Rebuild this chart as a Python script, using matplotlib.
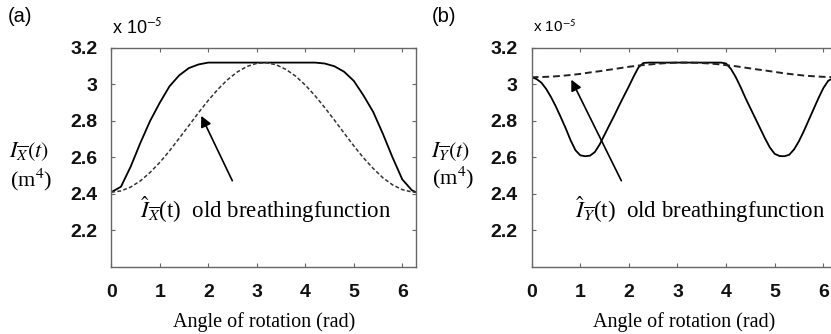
import numpy as np
import matplotlib
matplotlib.use("Agg")
import matplotlib.pyplot as plt

plt.rcParams['font.family'] = ['Liberation Sans', 'DejaVu Sans']
plt.rcParams['mathtext.fontset'] = 'stix'

# sample angles (rad)
angle = [0.0, 0.2, 0.4, 0.6, 0.8, 1.0, 1.2, 1.4, 1.6, 1.8, 2.0, 2.2, 2.4, 2.6, 2.8, 3.0,
         3.2, 3.4, 3.6, 3.8, 4.0, 4.2, 4.4, 4.6, 4.8, 5.0, 5.2, 5.4, 5.6, 5.8, 6.0, 6.2, 6.283]

# (a) second moment about X, units of 1e-5 m^4
ix_new = [2.41, 2.44, 2.55, 2.68, 2.80, 2.90, 2.99, 3.05, 3.09, 3.11, 3.12, 3.12, 3.12, 3.12, 3.12, 3.12,
          3.12, 3.12, 3.12, 3.12, 3.12, 3.12, 3.115, 3.10, 3.07, 3.02, 2.94, 2.85, 2.73, 2.60, 2.48, 2.42, 2.41]
ix_old = [2.41, 2.417, 2.438, 2.472, 2.518, 2.573, 2.636, 2.705, 2.775, 2.846, 2.913, 2.974, 3.027, 3.069,
          3.099, 3.116, 3.119, 3.108, 3.083, 3.046, 2.997, 2.939, 2.874, 2.805, 2.734, 2.664, 2.598, 2.540,
          2.489, 2.450, 2.424, 2.411, 2.41]

# (b) second moment about Y (solid read on a finer step)
angle_b = [0.0, 0.1, 0.2, 0.3, 0.4, 0.5, 0.6, 0.7, 0.8, 0.9, 1.0, 1.1, 1.2, 1.3, 1.4, 1.5,
           1.6, 1.7, 1.8, 1.9, 2.0, 2.1, 2.2, 2.3, 2.4, 3.9, 4.0, 4.1, 4.2, 4.3, 4.4, 4.5,
           4.6, 4.7, 4.8, 4.9, 5.0, 5.1, 5.2, 5.3, 5.4, 5.5, 5.6, 5.7, 5.8, 5.9, 6.0, 6.1, 6.2, 6.283]
iy_new = [3.040, 3.030, 3.010, 2.975, 2.930, 2.878, 2.820, 2.760, 2.695, 2.640, 2.612, 2.607, 2.610,
          2.630, 2.672, 2.725, 2.778, 2.830, 2.885, 2.938, 2.990, 3.045, 3.095, 3.118, 3.120, 3.120,
          3.115, 3.085, 3.040, 2.985, 2.925, 2.870, 2.815, 2.760, 2.705, 2.655, 2.620, 2.608, 2.607,
          2.615, 2.645, 2.690, 2.745, 2.805, 2.865, 2.925, 2.980, 3.020, 3.035, 3.040]
iy_old = [3.040, 3.041, 3.043, 3.047, 3.052, 3.058, 3.066, 3.073, 3.081, 3.089, 3.097, 3.104, 3.109, 3.114,
          3.118, 3.120, 3.120, 3.119, 3.116, 3.112, 3.106, 3.100, 3.092, 3.084, 3.077, 3.069, 3.061, 3.055,
          3.049, 3.045, 3.042, 3.040, 3.040]

yticks = [2.2, 2.4, 2.6, 2.8, 3.0, 3.2]
ytick_labels = ['2.2', '2.4', '2.6', '2.8', '3', '3.2']
xticks = [0, 1, 2, 3, 4, 5, 6]

fig = plt.figure(figsize=(8.31, 3.34), dpi=100)
ax_a = fig.add_axes([0.1339, 0.2006, 0.3667, 0.6557])
ax_b = fig.add_axes([0.6398, 0.2006, 0.3675, 0.6557])

serif = ['Liberation Serif', 'DejaVu Serif']
spine_col = '#666666'

def style(ax):
    ax.set_xlim(0, 6.283)
    ax.set_ylim(2.0, 3.2)
    ax.set_xticks(xticks)
    ax.set_xticklabels([str(t) for t in xticks], fontweight='bold')
    ax.set_yticks(yticks)
    ax.set_yticklabels(ytick_labels, fontweight='bold')
    ax.tick_params(direction='in', length=3, width=0.8, color=spine_col,
                   top=True, right=True, labelsize=14, labelcolor='#111111')
    ax.tick_params(axis='x', pad=12)
    ax.tick_params(axis='y', pad=10)
    for s in ax.spines.values():
        s.set_color(spine_col)
        s.set_linewidth(1.0)
    ax.set_xlabel('Angle of rotation (rad)', family=serif, fontsize=14.5, labelpad=8)

# panel (a)
ax_a.plot(angle, ix_new, color='black', lw=1.3)
ax_a.plot(angle, ix_old, color='#333333', lw=1.1, linestyle=(0, (2.5, 1.5)))
ax_a.annotate('', xy=(1.83, 2.842), xytext=(2.52, 2.459),
              arrowprops=dict(arrowstyle='-|>', color='black', lw=1.2, mutation_scale=16))
ax_a.text(0.59, 2.312, r'$\hat{I}_{\overline{X}}$(t)  old breathingfunction', family=serif,
          fontsize=16.5, va='center', ha='left')
style(ax_a)

# panel (b)
ax_b.plot(angle_b, iy_new, color='black', lw=1.3)
ax_b.plot(angle, iy_old, color='#222222', lw=1.4, linestyle=(0, (3.5, 2)))
ax_b.annotate('', xy=(0.79, 3.04), xytext=(1.87, 2.459),
              arrowprops=dict(arrowstyle='-|>', color='black', lw=1.2, mutation_scale=16))
ax_b.text(0.89, 2.312, r'$\hat{I}_{\overline{Y}}$(t)  old breathingfunction', family=serif,
          fontsize=16.5, va='center', ha='left')
style(ax_b)

# panel letters, multipliers and y labels
fig.text(8 / 831, 1 - 17 / 334, '(a)', fontsize=14.5, va='center', ha='left')
fig.text(432 / 831, 1 - 17 / 334, '(b)', fontsize=14.5, va='center', ha='left')
fig.text(112 / 831, 1 - 27 / 334, r'x 10$^{\mathsf{-5}}$', fontsize=13, va='center', ha='left')
fig.text(533 / 831, 1 - 27 / 334, r'x 10$^{\mathsf{-5}}$', fontsize=11, va='center', ha='left')

fig.text(9 / 831, 1 - 152 / 334, r'$I_{\overline{X}}(t)$', fontsize=16, va='center', ha='left')
fig.text(10 / 831, 1 - 180 / 334, r'(m$^4$)', family=serif, fontsize=16, va='center', ha='left')
fig.text(431 / 831, 1 - 152 / 334, r'$I_{\overline{Y}}(t)$', fontsize=16, va='center', ha='left')
fig.text(432 / 831, 1 - 178 / 334, r'(m$^4$)', family=serif, fontsize=16, va='center', ha='left')

fig.savefig('out.png', dpi=100)
